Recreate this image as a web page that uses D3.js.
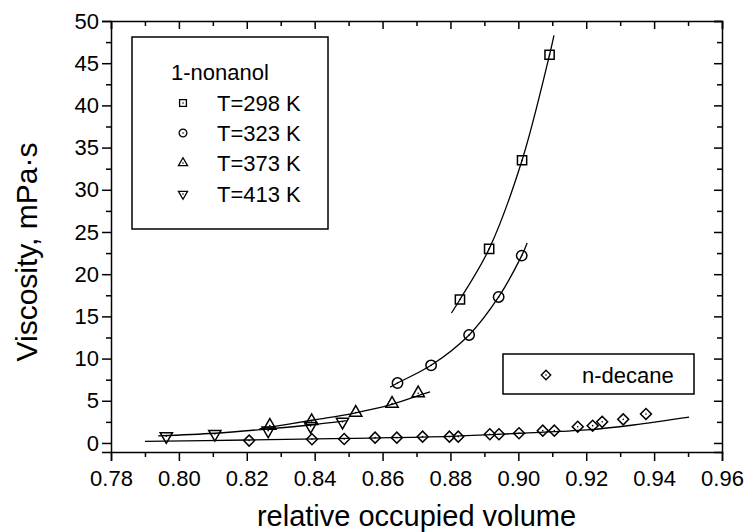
<!DOCTYPE html>
<html>
<head>
<meta charset="utf-8">
<script src="https://cdn.jsdelivr.net/npm/d3@7"></script>
<style>
  body { margin: 0; background: #fff; }
  text { font-family: Arial, "Liberation Sans", sans-serif; fill: #000; }
</style>
</head>
<body>
<div id="chart"></div>
<script>
// measured points, [relative occupied volume, viscosity mPa·s]
const t298 = [[0.8828, 17.0], [0.8914, 23.0], [0.9011, 33.5], [0.9092, 46.0]];
const t323 = [[0.8644, 7.1], [0.8743, 9.2], [0.8855, 12.8], [0.8942, 17.3], [0.9010, 22.2]];
const t373 = [[0.8268, 2.05], [0.8391, 2.6], [0.8521, 3.6], [0.8628, 4.66], [0.8705, 5.9]];
const t413 = [[0.7963, 0.8], [0.8106, 1.07], [0.8263, 1.46], [0.8388, 2.0], [0.8482, 2.5]];
const decane = [[0.8207, 0.28], [0.8392, 0.44], [0.8487, 0.47], [0.8578, 0.63], [0.8642, 0.63],
    [0.8718, 0.75], [0.8797, 0.75], [0.8823, 0.75], [0.8916, 1.03], [0.8943, 1.03],
    [0.9002, 1.15], [0.9072, 1.46], [0.9106, 1.46], [0.9175, 1.93], [0.9219, 2.05],
    [0.9247, 2.5], [0.9309, 2.8], [0.9376, 3.44]];

// fitted curves
const fit298 = [[0.8803, 15.4], [0.8828, 17.0], [0.8914, 23.0], [0.9011, 33.5], [0.9092, 46.0], [0.9105, 48.3]];
const fit323 = [[0.8622, 6.6], [0.8644, 7.1], [0.8743, 9.2], [0.8855, 12.8], [0.8942, 17.3], [0.9010, 22.2], [0.9026, 23.7]];
const fit373 = [[0.8237, 1.66], [0.8396, 2.72], [0.8514, 3.52], [0.8622, 4.5], [0.8705, 5.6], [0.874, 6.04]];
const fit413 = [[0.7939, 0.83], [0.8106, 1.15], [0.8263, 1.66], [0.8388, 2.13], [0.8494, 2.64]];
const fitDecane = [[0.79, 0.2], [0.82, 0.35], [0.85, 0.55], [0.88, 0.78], [0.9005, 1.15], [0.9201, 1.54], [0.9339, 2.13], [0.9503, 3.05]];

const xTicks = [0.78, 0.80, 0.82, 0.84, 0.86, 0.88, 0.90, 0.92, 0.94, 0.96];
const yTicks = [0, 5, 10, 15, 20, 25, 30, 35, 40, 45, 50];
const legendLabels = ["T=298 K", "T=323 K", "T=373 K", "T=413 K"];

const width = 745, height = 532;
const margin = { top: 21, right: 23, bottom: 80, left: 111 };

const svg = d3.select("#chart").append("svg")
    .attr("width", width)
    .attr("height", height);

const x = d3.scaleLinear().domain([0.78, 0.96]).range([margin.left, width - margin.right]);
const y = d3.scaleLinear().domain([-1.07, 50]).range([height - margin.bottom, margin.top]);

const xMinor = d3.range(0.79, 0.96, 0.02);
const yMinor = d3.range(2.5, 50, 5);

// axes: outward ticks left/bottom, inward ticks top/right
function styleAxis(g) {
    g.selectAll("path, line").attr("stroke", "#000").attr("stroke-width", 1.5);
    g.selectAll("text").style("font-size", "22px");
}

svg.append("g")
    .attr("transform", `translate(0,${y(-1.07)})`)
    .call(d3.axisBottom(x).tickValues(xTicks).tickFormat(d3.format(".2f")).tickSize(9).tickPadding(9))
    .call(styleAxis);
svg.append("g")
    .attr("transform", `translate(0,${y(-1.07)})`)
    .call(d3.axisBottom(x).tickValues(xMinor).tickFormat("").tickSize(5))
    .call(styleAxis).select(".domain").remove();

svg.append("g")
    .attr("transform", `translate(${x(0.78)},0)`)
    .call(d3.axisLeft(y).tickValues(yTicks).tickSize(9).tickPadding(3))
    .call(styleAxis);
svg.append("g")
    .attr("transform", `translate(${x(0.78)},0)`)
    .call(d3.axisLeft(y).tickValues(yMinor).tickFormat("").tickSize(5))
    .call(styleAxis).select(".domain").remove();

svg.append("g")
    .attr("transform", `translate(0,${y(50)})`)
    .call(d3.axisBottom(x).tickValues(xTicks).tickFormat("").tickSize(8))
    .call(styleAxis);
svg.append("g")
    .attr("transform", `translate(0,${y(50)})`)
    .call(d3.axisBottom(x).tickValues(xMinor).tickFormat("").tickSize(5))
    .call(styleAxis).select(".domain").remove();

svg.append("g")
    .attr("transform", `translate(${x(0.96)},0)`)
    .call(d3.axisLeft(y).tickValues(yTicks).tickFormat("").tickSize(8))
    .call(styleAxis);
svg.append("g")
    .attr("transform", `translate(${x(0.96)},0)`)
    .call(d3.axisLeft(y).tickValues(yMinor).tickFormat("").tickSize(5))
    .call(styleAxis).select(".domain").remove();

// axis titles
svg.append("text")
    .attr("x", (x(0.78) + x(0.96)) / 2)
    .attr("y", 526)
    .attr("text-anchor", "middle")
    .style("font-size", "29px")
    .text("relative occupied volume");

svg.append("text")
    .attr("transform", "translate(37,252) rotate(-90)")
    .attr("text-anchor", "middle")
    .style("font-size", "30px")
    .text("Viscosity, mPa\u00b7s");

// fit curves
const line = d3.line()
    .x(d => x(d[0]))
    .y(d => y(d[1]))
    .curve(d3.curveCatmullRom);

[fit298, fit323, fit373, fit413, fitDecane].forEach(f => {
    svg.append("path")
        .datum(f)
        .attr("fill", "none")
        .attr("stroke", "#000")
        .attr("stroke-width", 1.3)
        .attr("d", line);
});

// markers
const symbols = [
    { type: d3.symbolSquare, size: 85, rot: 0 },
    { type: d3.symbolCircle, size: 85, rot: 0 },
    { type: d3.symbolTriangle, size: 65, rot: 0 },
    { type: d3.symbolTriangle, size: 65, rot: 180 },
    { type: d3.symbolSquare, size: 60, rot: 45 }
];

function drawMarkers(data, sym) {
    const g = svg.append("g");
    const path = d3.symbol().type(sym.type).size(sym.size)();
    g.selectAll("path")
        .data(data)
        .enter().append("path")
        .attr("d", path)
        .attr("transform", d => `translate(${x(d[0])},${y(d[1])}) rotate(${sym.rot})`)
        .attr("fill", "none")
        .attr("stroke", "#000")
        .attr("stroke-width", 1.5);
    g.selectAll("circle")
        .data(data)
        .enter().append("circle")
        .attr("cx", d => x(d[0]))
        .attr("cy", d => y(d[1]))
        .attr("r", 0.8)
        .attr("fill", "#000");
}

[t298, t323, t373, t413, decane].forEach((s, i) => drawMarkers(s, symbols[i]));

// legend 1-nonanol
const leg = svg.append("g");
leg.append("rect")
    .attr("x", 132).attr("y", 37)
    .attr("width", 196).attr("height", 192)
    .attr("fill", "#fff").attr("stroke", "#000").attr("stroke-width", 1.5);
leg.append("text")
    .attr("x", 171).attr("y", 80)
    .style("font-size", "22px")
    .text("1-nonanol");
const rowY = [103, 133, 163, 194];
legendLabels.forEach((lab, i) => {
    const sym = symbols[i];
    leg.append("path")
        .attr("d", d3.symbol().type(sym.type).size(sym.size * 0.55)())
        .attr("transform", `translate(183,${rowY[i]}) rotate(${sym.rot})`)
        .attr("fill", "none").attr("stroke", "#000").attr("stroke-width", 1.3);
    leg.append("circle").attr("cx", 183).attr("cy", rowY[i]).attr("r", 0.8).attr("fill", "#000");
    leg.append("text")
        .attr("x", 217).attr("y", rowY[i] + 8)
        .style("font-size", "22px")
        .text(lab);
});

// legend n-decane
const leg2 = svg.append("g");
leg2.append("rect")
    .attr("x", 503).attr("y", 354)
    .attr("width", 191).attr("height", 40)
    .attr("fill", "#fff").attr("stroke", "#000").attr("stroke-width", 1.5);
leg2.append("path")
    .attr("d", d3.symbol().type(d3.symbolSquare).size(symbols[4].size * 0.75)())
    .attr("transform", "translate(546,375) rotate(45)")
    .attr("fill", "none").attr("stroke", "#000").attr("stroke-width", 1.3);
leg2.append("circle").attr("cx", 546).attr("cy", 375).attr("r", 0.8).attr("fill", "#000");
leg2.append("text")
    .attr("x", 582).attr("y", 383)
    .style("font-size", "22px")
    .text("n-decane");
</script>
</body>
</html>
